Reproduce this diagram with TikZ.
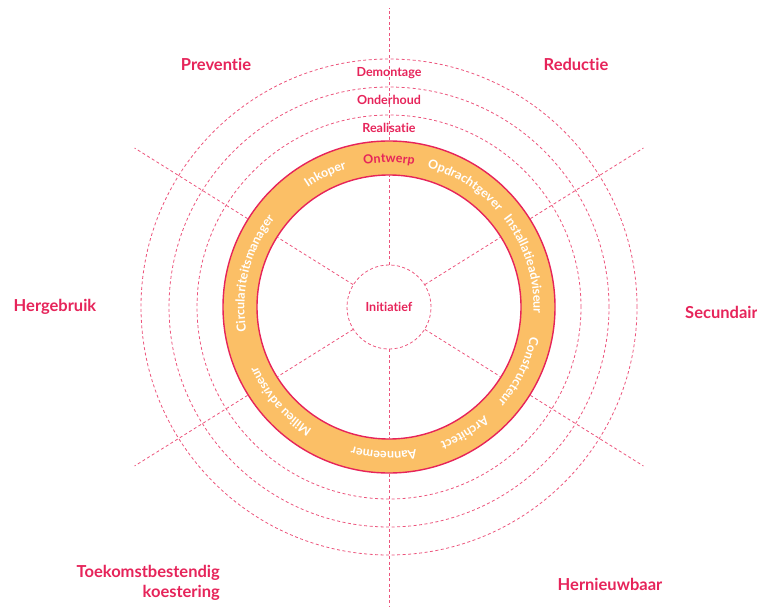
\documentclass[tikz,border=0pt]{standalone}
\usepackage{fontspec}
\setmainfont[Ligatures=NoCommon]{Lato}
\usetikzlibrary{decorations.text,calc}
\definecolor{crim}{RGB}{230,36,90}
\definecolor{ringor}{RGB}{251,191,102}
\definecolor{dashc}{RGB}{236,84,124}
\newcommand\ringlabel[3]{%
  \path[decorate, decoration={text along path, text align=center, text color=#3,
    text={|\fontsize{12.5}{15}\selectfont\bfseries|#2}}]
    ($(c)+(#1+70:144.5)$) arc[start angle=#1+70, end angle=#1-70, radius=144.5];}
\begin{document}
\begin{tikzpicture}[x=1pt,y=1pt,
  dashline/.style={draw=dashc, line width=0.8pt, dash pattern=on 3pt off 2.5pt},
  biglabel/.style={text=crim, font=\fontsize{16.5}{20}\selectfont\bfseries},
  phaselabel/.style={text=crim, font=\fontsize{12.5}{15}\selectfont\bfseries},
  ringborder/.style={circle, draw=crim, line width=1.4pt, inner sep=0pt}
]
\useasboundingbox (0,0) rectangle (757,606);
\coordinate (c) at (389,299);
% dashed phase circles
\draw[dashline] (c) circle[radius=248];
\draw[dashline] (c) circle[radius=220];
\draw[dashline] (c) circle[radius=192];
% orange ring
\fill[ringor, even odd rule] (c) circle[radius=166] (c) circle[radius=132];
\node[ringborder, minimum size=332pt] (ringout) at (c) {};
\node[ringborder, minimum size=264pt] (ringin) at (c) {};
% centre
\node[circle, dashline, minimum size=84pt, inner sep=0pt, phaselabel] (init) at (c) {Initiatief};
% spoke ends
\coordinate (e90) at (389,598);
\coordinate (e270) at (389,0);
\coordinate (e32) at ($(c)+(32:300)$);
\coordinate (e148) at ($(c)+(148:300)$);
\coordinate (e212) at ($(c)+(212:300)$);
\coordinate (e328) at ($(c)+(328:300)$);
\foreach \a in {90,32,148,212,328,270}{
  \draw[dashline] (init.\a) -- (ringin.\a);
  \draw[dashline] (ringout.\a) -- (e\a);
}
% phase labels
\node[phaselabel] (demontage) at (389,533) {Demontage};
\node[phaselabel] (onderhoud) at (389,506) {Onderhoud};
\node[phaselabel] (realisatie) at (389,478) {Realisatie};
% ring labels
\ringlabel{90}{Ontwerp}{crim}
\ringlabel{58}{Opdrachtgever}{white}
\ringlabel{17.5}{Installatieadviseur}{white}
\ringlabel{-26.5}{Constructeur}{white}
\ringlabel{-59}{Architect}{white}
\ringlabel{-92}{Aanneemer}{white}
\ringlabel{-139}{Milieu adviseur}{white}
\ringlabel{166}{Circulariteitsmanager}{white}
\ringlabel{115.6}{Inkoper}{white}
% outer labels
\node[biglabel] (preventie) at (216,542) {Preventie};
\node[biglabel] (reductie) at (576,542) {Reductie};
\node[biglabel] (hergebruik) at (55,299) {Hergebruik};
\node[biglabel, anchor=west, inner sep=0pt] (secundair) at (685,294) {Secundair};
\node[biglabel] (hernieuwbaar) at (610,22) {Hernieuwbaar};
\node[biglabel, align=right, anchor=east, inner sep=0pt] (toekomst) at (220,23) {Toekomstbestendig\\koestering};
\end{tikzpicture}
\end{document}
